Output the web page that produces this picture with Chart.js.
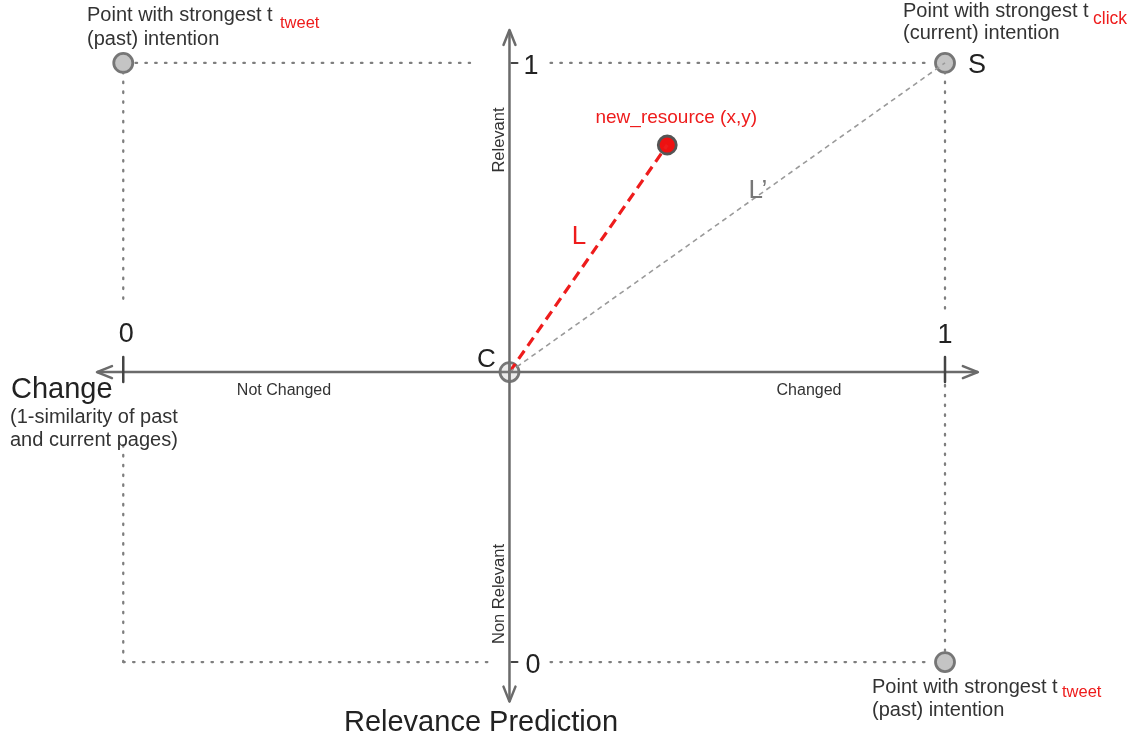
<!DOCTYPE html>
<html>
<head>
<meta charset="utf-8">
<script src="https://cdn.jsdelivr.net/npm/chart.js@4/dist/chart.umd.min.js"></script>
<style>
  html, body { margin: 0; padding: 0; background: #fff; }
  #wrap { width: 1134px; height: 737px; }
</style>
</head>
<body>
<div id="wrap"><canvas id="diagram" width="1134" height="737"></canvas></div>
<script>
// ---- data (diagram units: change 0..1 on x, relevance 0..1 on y) ----
const intentionX = [0, 1, 1];          // gray "strongest intention" points
const intentionY = [1, 1, 0];
const centerXY   = [0.47, 0.484];      // C
const resourceXY = [0.662, 0.863];     // new_resource (x,y)
const changeTicks    = ['0', '1'];     // on the horizontal axis
const relevanceTicks = ['1', '0'];     // on the vertical axis

// axis extents (arrow tip to arrow tip)
const changeAxisX    = [-0.032, 1.04];
const relevanceAxisY = [1.055, -0.066];

// dotted frame, null = gap around labels / axes
const frameTop    = [[0.015, 1], [0.422, 1], null, [0.52, 1], [0.985, 1]];
const frameBottom = [[0, 0], [0.452, 0], null, [0.52, 0], [0.985, 0]];
const frameLeft   = [[0, 0.985], [0, 0.604], null, [0, 0.362], [0, 0]];
const frameRight  = [[1, 0.985], [1, 0.584], null, [1, 0.4625], [1, 0.015]];

const pts = arr => arr.map(p => p ? { x: p[0], y: p[1] } : { x: null, y: null });

const GRAY_AXIS = '#6b6b6b';
const FONT = '"Liberation Sans", Arial, sans-serif';

function dotted(data) {
    return { data: pts(data), showLine: true, spanGaps: false, pointRadius: 0,
             borderColor: '#7e7e7e', borderWidth: 2.3, borderDash: [1.5, 8.3], borderCapStyle: 'round' };
}

const cx = centerXY[0], cy = centerXY[1];

// ---- arrow heads + ticks + texts ----
const decor = {
    id: 'decor',
    afterDatasetsDraw(chart) {
        const { ctx, scales: { x, y } } = chart;
        const px = v => x.getPixelForValue(v), py = v => y.getPixelForValue(v);
        ctx.save();
        ctx.strokeStyle = GRAY_AXIS; ctx.lineWidth = 2.5; ctx.lineCap = 'round'; ctx.lineJoin = 'round';
        const head = (tx, ty, dx, dy) => {
            const L = 15, W = 6, nx = -dy, ny = dx;
            ctx.beginPath();
            ctx.moveTo(tx - dx * L + nx * W, ty - dy * L + ny * W);
            ctx.lineTo(tx, ty);
            ctx.lineTo(tx - dx * L - nx * W, ty - dy * L - ny * W);
            ctx.stroke();
        };
        head(px(changeAxisX[0]), py(cy), -1, 0);
        head(px(changeAxisX[1]), py(cy), 1, 0);
        head(px(cx), py(relevanceAxisY[0]), 0, -1);
        head(px(cx), py(relevanceAxisY[1]), 0, 1);

        // ticks
        ctx.lineWidth = 2.5; ctx.strokeStyle = '#444';
        [0, 1].forEach(v => {
            ctx.beginPath(); ctx.moveTo(px(v), py(cy) - 15); ctx.lineTo(px(v), py(cy) + 10); ctx.stroke();
        });
        ctx.lineWidth = 2;
        [1, 0].forEach(v => {
            ctx.beginPath(); ctx.moveTo(px(cx) + 2, py(v)); ctx.lineTo(px(cx) + 8, py(v)); ctx.stroke();
        });

        // crosshair in C
        ctx.lineWidth = 2; ctx.strokeStyle = '#777';
        ctx.beginPath();
        ctx.moveTo(px(cx) - 9, py(cy)); ctx.lineTo(px(cx) + 9, py(cy));
        ctx.moveTo(px(cx), py(cy) - 9); ctx.lineTo(px(cx), py(cy) + 9);
        ctx.stroke();

        const text = (s, tx, ty, size, color, align, base) => {
            ctx.font = size + 'px ' + FONT;
            ctx.fillStyle = color; ctx.textAlign = align || 'left'; ctx.textBaseline = base || 'alphabetic';
            ctx.fillText(s, tx, ty);
        };
        const vtext = (s, tx, ty, size, color) => {
            ctx.save(); ctx.translate(tx, ty); ctx.rotate(-Math.PI / 2);
            text(s, 0, 0, size, color, 'center', 'middle');
            ctx.restore();
        };
        const dark = '#333', red = '#ee1c1c';

        // top-left intention
        text('Point with strongest t', 87, 21, 20, dark);
        text('tweet', 280, 28, 16.5, red);
        text('(past) intention', 87, 45, 20, dark);
        // top-right intention
        text('Point with strongest t', 903, 17, 20, dark);
        text('click', 1093, 24, 17.5, red);
        text('(current) intention', 903, 39, 20, dark);
        // bottom-right intention
        text('Point with strongest t', 872, 693, 20, dark);
        text('tweet', 1062, 697, 16.5, red);
        text('(past) intention', 872, 716, 20, dark);

        text('S', px(1) + 23, py(1) + 10, 27, '#222');
        text(relevanceTicks[0], px(cx) + 14, py(1) + 11, 27, '#222');
        text(relevanceTicks[1], px(cx) + 16, py(0) + 11, 27, '#222');
        text(changeTicks[0], px(0) + 3, py(cy) - 30, 27, '#222', 'center');
        text(changeTicks[1], px(1), py(cy) - 29, 27, '#222', 'center');
        text('C', px(cx) - 23, py(cy) - 5, 26, '#222', 'center');

        text('new_resource (x,y)', px(resourceXY[0]) + 9, py(resourceXY[1]) - 22, 19, red, 'center');
        text('L', 579, 244, 26, red, 'center');
        text('L\u2019', 758, 198, 26, '#777', 'center');

        vtext('Relevant', px(cx) - 10, 140, 16.5, dark);
        vtext('Non Relevant', px(cx) - 10, 594, 16.5, dark);
        text('Not Changed', 284, 395, 16, dark, 'center');
        text('Changed', 809, 395, 16, dark, 'center');

        text('Change', 11, 398, 29, '#222');
        text('(1-similarity of past', 10, 423, 20, dark);
        text('and current pages)', 10, 446, 20, dark);
        text('Relevance Prediction', 481, 731, 29, '#222', 'center');
        ctx.restore();
    }
};

new Chart(document.getElementById('diagram'), {
    type: 'scatter',
    data: {
        datasets: [
            dotted(frameTop), dotted(frameBottom), dotted(frameLeft), dotted(frameRight),
            // axes
            { data: pts([[changeAxisX[0], cy], [changeAxisX[1], cy]]), showLine: true, pointRadius: 0,
              borderColor: GRAY_AXIS, borderWidth: 2.5 },
            { data: pts([[cx, relevanceAxisY[0]], [cx, relevanceAxisY[1]]]), showLine: true, pointRadius: 0,
              borderColor: GRAY_AXIS, borderWidth: 2.5 },
            // L' : C -> S
            { data: pts([centerXY, [intentionX[1], intentionY[1]]]), showLine: true, pointRadius: 0,
              borderColor: '#9a9a9a', borderWidth: 1.6, borderDash: [5, 4] },
            // L : C -> new_resource
            { data: pts([centerXY, resourceXY]), showLine: true, pointRadius: 0,
              borderColor: '#ee1c1c', borderWidth: 3.2, borderDash: [10, 6] },
            // intention points
            { data: intentionX.map((v, i) => ({ x: v, y: intentionY[i] })), pointRadius: 9.5,
              pointBackgroundColor: '#c4c4c4', pointBorderColor: '#767676', pointBorderWidth: 2.8 },
            // C
            { data: pts([centerXY]), pointRadius: 9.5, pointBackgroundColor: 'rgba(200,200,200,0.35)',
              pointBorderColor: '#777', pointBorderWidth: 2.8 },
            // new resource
            { data: pts([resourceXY]), pointRadius: 9, pointBackgroundColor: '#ee1111',
              pointBorderColor: '#555', pointBorderWidth: 2.8 }
        ]
    },
    options: {
        responsive: false,
        animation: false,
        layout: { padding: 0, autoPadding: false },
        scales: {
            x: { type: 'linear', display: false, min: -0.15, max: 1.23 },
            y: { type: 'linear', display: false, min: -0.125, max: 1.105 }
        },
        plugins: { legend: { display: false }, tooltip: { enabled: false } },
        elements: { line: { tension: 0 } }
    },
    plugins: [decor]
});
</script>
</body>
</html>
